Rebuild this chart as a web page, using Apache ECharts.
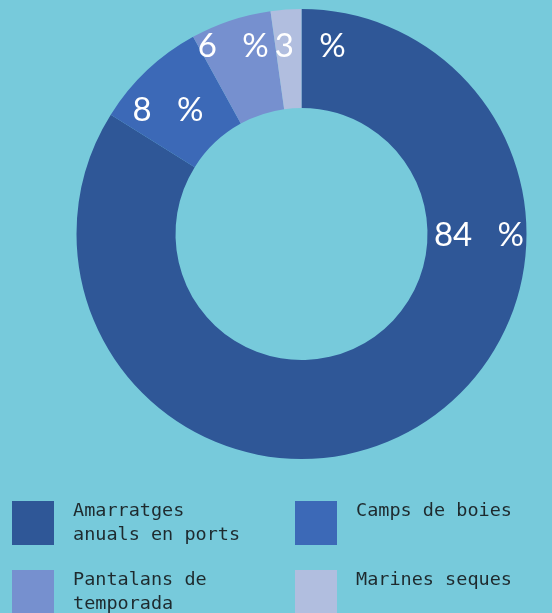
<!DOCTYPE html>
<html>
<head>
<meta charset="utf-8">
<script src="https://cdn.jsdelivr.net/npm/echarts@6/dist/echarts.min.js"></script>
<style>
html,body{margin:0;padding:0;background:#77cadb;}
#c{width:552px;height:613px;}
</style>
</head>
<body>
<div id="c"></div>
<script>
const categories = ['Amarratges anuals en ports', 'Camps de boies', 'Pantalans de temporada', 'Marines seques'];
const values = [83.9, 8.1, 5.8, 2.2];
const shownPercent = [84, 8, 6, 3];

const colors = ['#2f5797', '#3c69b7', '#7690cf', '#b1bedf'];
const labelOffsets = [[91, -155], [-11, 6], [-12, -18], [21, -10]];

const chart = echarts.init(document.getElementById('c'), null, {renderer: 'canvas'});
chart.setOption({
  backgroundColor: '#77cadb',
  animation: false,
  legend: {
    left: 12,
    top: 499,
    width: 545,
    padding: 0,
    itemGap: 21,
    itemWidth: 42,
    itemHeight: 44,
    icon: 'rect',
    selectedMode: false,
    data: categories,
    formatter: name => name.length <= 15 ? name + '\n\u00a0' : name,
    textStyle: {
      fontFamily: 'DejaVu Sans Mono',
      fontSize: 18.5,
      color: '#1e2a2e',
      lineHeight: 24,
      width: 184,
      overflow: 'break',
      padding: [0, 17, 0, 14]
    }
  },
  series: [{
    type: 'pie',
    center: [301.5, 234],
    radius: [126, 225],
    startAngle: 90,
    clockwise: true,
    avoidLabelOverlap: false,
    labelLine: {show: false},
    emphasis: {disabled: true},
    data: categories.map((name, i) => ({
      name: name,
      value: values[i],
      itemStyle: {color: colors[i]},
      label: {
        show: true,
        position: 'inside',
        offset: labelOffsets[i],
        formatter: () => shownPercent[i] + '   %',
        fontFamily: 'Lato',
        fontSize: 33,
        color: '#ffffff'
      }
    }))
  }]
});
</script>
</body>
</html>
